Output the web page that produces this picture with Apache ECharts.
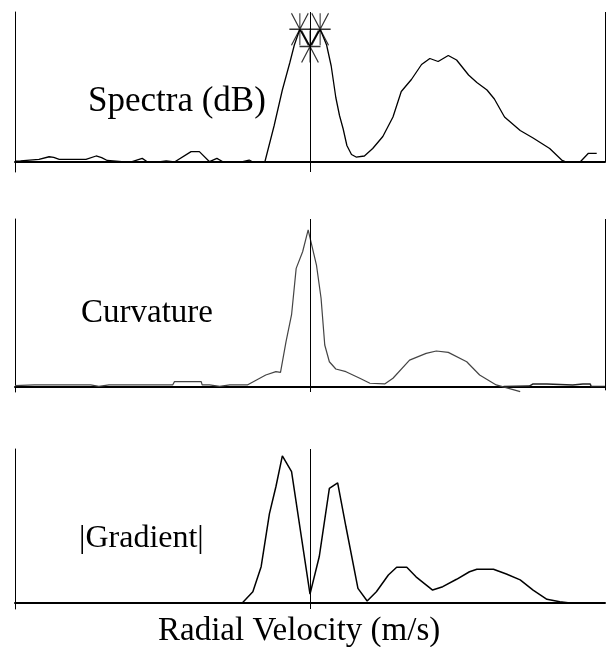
<!DOCTYPE html>
<html>
<head>
<meta charset="utf-8">
<script src="https://cdn.jsdelivr.net/npm/echarts@6/dist/echarts.min.js"></script>
<style>
html,body{margin:0;padding:0;background:#fff;}
#c{width:608px;height:647px;}
</style>
</head>
<body>
<div id="c"></div>
<script>
// x: Doppler bin index (velocity), 0 = zero radial velocity
const spectra = [
  [-32,0.5],[-31.4,0.7],[-29.4,1.8],[-28.3,3.5],[-27.8,3.1],[-27.2,1.8],[-24.3,1.8],[-23.2,4],[-22.6,2.9],
  [-22.0,1],[-20.4,0.3],[-19.3,0.3],[-18.2,2.4],[-17.7,0.3],[-16.4,0],[-15.6,0.7],[-14.7,0],
  [-12.9,6.9],[-12.0,6.9],[-10.9,0.2],[-10.1,2.4],[-9.5,0.3],[-7.3,0.3],[-7.1,1.3],[-6.6,1.3],[-6.2,0],
  [-4.9,0],[-3.9,24],[-3.0,48],[-2.2,66],[-1.7,78],[-1.1,88.5],[0,77],[1.1,88.5],[1.8,78],[2.3,64],
  [2.8,43],[3.2,31],[3.6,22],[4.0,11],[4.5,5],[5.0,3.3],[5.9,4],[6.8,9],[7.9,17],[9.0,30],[9.9,47],
  [11.0,55],[12.1,65],[13.0,69],[13.9,67],[15.0,71],[15.9,68],[17.2,58],[18.1,53],[19.2,48],[20.0,42],
  [21.1,30],[22.8,21],[24.2,16],[26.0,9],[27.3,1.3],[27.8,0],[29.3,0],[30.2,5.8],[31.1,5.8]
];
const peakMarks = [[-1.1,88.5],[0,77],[1.1,88.5]];

const curvature = [
  [-32,0.8],[-29.9,1.2],[-23.8,1.2],[-22.9,0.4],[-21.8,1.2],[-14.9,1.2],[-14.7,3.2],[-11.8,3.2],
  [-11.7,1.2],[-10.9,1.2],[-9.8,0.3],[-8.7,1.2],[-6.8,1.2],[-5.8,4.2],[-4.8,7.1],[-3.7,9.1],[-3.2,8.7],
  [-2.6,27],[-2.0,43],[-1.5,70.6],[-0.8,80.5],[-0.2,93.5],[0.7,72.6],[1.2,52.8],[1.6,25],[2.1,15],
  [2.8,10.7],[3.9,9.1],[5.4,5.2],[6.5,2.2],[8.1,1.8],[9.0,5.2],[10.8,16],[12.6,20],[13.7,21.4],
  [15.0,20.6],[17.0,15],[18.4,7.1],[20.2,1.2],[22.8,-2.8]
];
const curvatureTail = [
  [21.0,0.3],[23.8,0.5],[24.2,1.8],[25.7,1.8],[25.8,1.2],[28.5,1.2],[28.6,0.4],[29.6,1.8],[30.4,1.8],[30.5,0.3],[32,0.3]
];

const gradient = [
  [-32,0],[-12,0.2],[-7.3,0.3],[-6.2,7.3],[-5.3,23.6],[-4.4,58],[-3.7,75.5],[-3.0,95.5],[-2.0,85.3],
  [-1.1,49.5],[0,5.8],[1.0,30],[2.1,74.5],[3.0,78],[3.9,49.5],[5.2,9.5],[6.2,1.3],[7.2,7.3],[8.5,18.2],
  [9.4,23.2],[10.5,23.2],[11.5,17],[13.3,8.4],[14.4,10.6],[15.9,15.4],[17.3,20.3],[18.1,21.9],
  [19.9,21.9],[21.3,18.8],[22.8,15],[24.2,8.4],[25.7,2.4],[27.1,0.8],[28.2,0],[32,0]
];

const panelLabels = ['Spectra (dB)', 'Curvature', '|Gradient|'];
const axisTitle = 'Radial Velocity (m/s)';

const FONT = '"Liberation Serif", "DejaVu Serif", serif';
const xMin = -32, xMax = 32;

const grids = [
  {left:15, right:3, top:12, height:160},
  {left:15, right:3, top:219, height:173},
  {left:15, right:3, top:449, height:160}
];
const yMins = [-6.67, -3, -3.9];

function xAx(i){
  return {gridIndex:i, type:'value', min:xMin, max:xMax,
    axisLine:{show:true, onZero:true, lineStyle:{color:'#000', width:2}},
    axisTick:{show:false}, axisLabel:{show:false}, splitLine:{show:false}};
}
function yAx(i, pos, show){
  return {gridIndex:i, type:'value', min:yMins[i], max:100, position:pos,
    axisLine:{show:show, onZero:false, lineStyle:{color:'#000', width:1}},
    axisTick:{show:false}, axisLabel:{show:false}, splitLine:{show:false}};
}
function frameLines(withRight, rightBottom){
  const d = [{xAxis:0}];
  if (withRight) d.push([{coord:[xMax,100]},{coord:[xMax,rightBottom]}]);
  return {
    silent:true, symbol:['none','none'], label:{show:false},
    lineStyle:{color:'#000', width:1, type:'solid'},
    data:d
  };
}

const option = {
  animation:false,
  backgroundColor:'#fff',
  grid: grids,
  xAxis:[xAx(0), xAx(1), xAx(2)],
  yAxis:[yAx(0,'left',true), yAx(1,'left',true), yAx(2,'left',true)],
  series:[
    {type:'line', xAxisIndex:0, yAxisIndex:0, data:spectra, showSymbol:false,
      lineStyle:{color:'#000', width:1.3}, markLine:frameLines(true, 0)},
    {type:'scatter', xAxisIndex:0, yAxisIndex:0, data:peakMarks,
      symbol:'path://M0,16 L20,16 M10,0 L10,32 M2,0 L18,32 M18,0 L2,32',
      symbolSize:[21,32], symbolKeepAspect:false,
      itemStyle:{color:'none', borderColor:'#000', borderWidth:1.3}, clip:false, z:5},
    {type:'line', xAxisIndex:1, yAxisIndex:1, data:curvature, showSymbol:false,
      lineStyle:{color:'#444', width:1.2}, markLine:frameLines(true, -2), clip:false},
    {type:'line', xAxisIndex:1, yAxisIndex:1, data:curvatureTail, showSymbol:false,
      lineStyle:{color:'#222', width:1.5}},
    {type:'line', xAxisIndex:2, yAxisIndex:2, data:gradient, showSymbol:false,
      lineStyle:{color:'#000', width:1.5}, markLine:frameLines(false, 0)}
  ],
  graphic:[
    {type:'text', left:88, top:84, style:{text:panelLabels[0], font:'35px '+FONT, fill:'#000'}},
    {type:'text', left:81, top:297, style:{text:panelLabels[1], font:'33px '+FONT, fill:'#000'}},
    {type:'text', left:79, top:523, style:{text:panelLabels[2], font:'32px '+FONT, fill:'#000'}},
    {type:'text', left:158, top:615, style:{text:axisTitle, font:'33px '+FONT, fill:'#000'}}
  ]
};
const chart = echarts.init(document.getElementById('c'), null, {renderer:'canvas'});
chart.setOption(option);
</script>
</body>
</html>
